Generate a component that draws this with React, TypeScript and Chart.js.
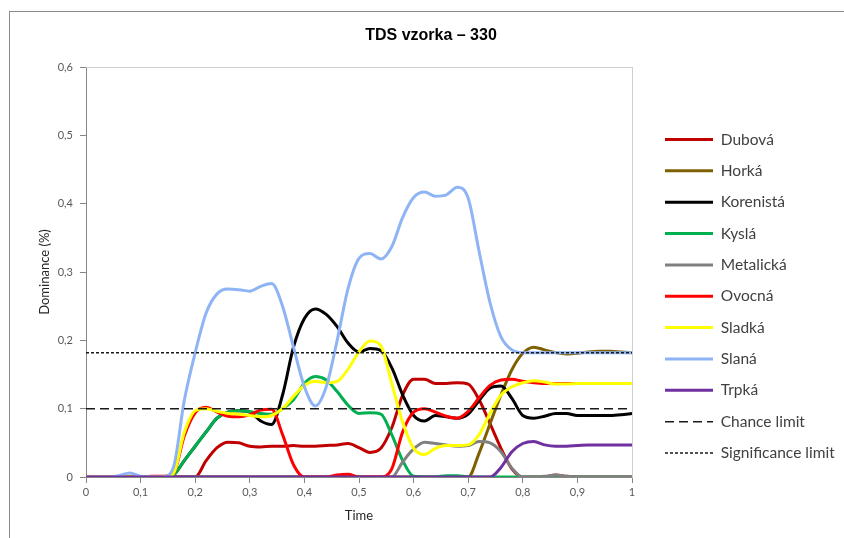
import React, { useEffect, useRef } from 'react';
import { Chart, registerables } from 'chart.js';

Chart.register(...registerables);

// ---- data ----
const times = [
  0, 0.02, 0.04, 0.06, 0.08, 0.1, 0.12, 0.14, 0.16, 0.18,
  0.2, 0.22, 0.24, 0.26, 0.28, 0.3, 0.32, 0.34, 0.36, 0.38,
  0.4, 0.42, 0.44, 0.46, 0.48, 0.5, 0.52, 0.54, 0.56, 0.58,
  0.6, 0.62, 0.64, 0.66, 0.68, 0.7, 0.72, 0.74, 0.76, 0.78,
  0.8, 0.82, 0.84, 0.86, 0.88, 0.9, 0.92, 0.94, 0.96, 0.98, 1,
];

const dubova = [
  0, 0, 0, 0, 0, 0, 0, 0, 0, 0,
  0, 0.024, 0.043, 0.051, 0.05, 0.045, 0.044, 0.045, 0.045, 0.046,
  0.045, 0.045, 0.046, 0.047, 0.049, 0.043, 0.036, 0.042, 0.072, 0.12,
  0.143, 0.143, 0.137, 0.137, 0.138, 0.136, 0.113, 0.078, 0.042, 0.012,
  0, 0, 0, 0.003, 0.001, 0, 0, 0, 0, 0, 0,
];

const horka = [
  0, 0, 0, 0, 0, 0, 0, 0, 0, 0,
  0, 0, 0, 0, 0, 0, 0, 0, 0, 0,
  0, 0, 0, 0, 0, 0, 0, 0, 0, 0,
  0, 0, 0, 0, 0, 0, 0.035, 0.078, 0.12, 0.157,
  0.181, 0.19, 0.186, 0.182, 0.18, 0.181, 0.183, 0.184, 0.184, 0.183, 0.182,
];

const korenista = [
  0, 0, 0, 0, 0, 0, 0, 0, 0.003, 0.024,
  0.045, 0.066, 0.086, 0.095, 0.097, 0.095, 0.082, 0.077, 0.12, 0.19,
  0.232, 0.246, 0.238, 0.22, 0.196, 0.183, 0.188, 0.185, 0.16, 0.12,
  0.09, 0.082, 0.09, 0.088, 0.086, 0.092, 0.112, 0.13, 0.133, 0.115,
  0.09, 0.086, 0.089, 0.093, 0.093, 0.09, 0.09, 0.09, 0.09, 0.091, 0.093,
];

const kysla = [
  0, 0, 0, 0, 0, 0, 0, 0, 0.003, 0.024,
  0.045, 0.066, 0.086, 0.095, 0.097, 0.096, 0.093, 0.092, 0.1, 0.113,
  0.137, 0.147, 0.142, 0.125, 0.105, 0.093, 0.094, 0.092, 0.062, 0.024,
  0.001, 0, 0, 0.002, 0.002, 0, 0, 0, 0, 0,
  0, 0, 0, 0, 0, 0, 0, 0, 0, 0, 0,
];

const metalicka = [
  0, 0, 0, 0, 0, 0, 0, 0, 0, 0,
  0, 0, 0, 0, 0, 0, 0, 0, 0, 0,
  0, 0, 0, 0, 0, 0, 0, 0, 0, 0.022,
  0.041, 0.051, 0.049, 0.047, 0.045, 0.046, 0.052, 0.05, 0.037, 0.013,
  0, 0, 0.001, 0.003, 0.001, 0, 0, 0, 0, 0, 0,
];

const ovocna = [
  0, 0, 0, 0, 0, 0, 0.001, 0.001, 0.005, 0.06,
  0.094, 0.102, 0.095, 0.089, 0.088, 0.091, 0.098, 0.099, 0.062, 0.018,
  0, 0, 0, 0.003, 0.004, 0, 0, 0, 0.012, 0.066,
  0.095, 0.1, 0.095, 0.089, 0.086, 0.096, 0.116, 0.134, 0.142, 0.143,
  0.14, 0.138, 0.137, 0.137, 0.137, 0.137, 0.137, 0.137, 0.137, 0.137, 0.137,
];

const sladka = [
  0, 0, 0, 0, 0, 0, 0, 0, 0.005, 0.065,
  0.097, 0.1, 0.096, 0.093, 0.092, 0.09, 0.088, 0.09, 0.1, 0.118,
  0.134, 0.14, 0.138, 0.14, 0.158, 0.183, 0.199, 0.192, 0.137, 0.08,
  0.042, 0.033, 0.042, 0.046, 0.046, 0.047, 0.062, 0.093, 0.12, 0.132,
  0.138, 0.141, 0.139, 0.136, 0.136, 0.137, 0.137, 0.137, 0.137, 0.137, 0.137,
];

const slana = [
  0, 0, 0, 0.002, 0.006, 0.001, 0, 0, 0.014, 0.112,
  0.182, 0.24, 0.268, 0.275, 0.274, 0.272, 0.279, 0.283, 0.25, 0.19,
  0.132, 0.104, 0.132, 0.2, 0.276, 0.32, 0.327, 0.319, 0.337, 0.38,
  0.409, 0.417, 0.411, 0.413, 0.424, 0.408, 0.33, 0.255, 0.205, 0.186,
  0.182, 0.182, 0.182, 0.182, 0.182, 0.182, 0.182, 0.182, 0.182, 0.182, 0.182,
];

const trpka = [
  0, 0, 0, 0, 0, 0, 0, 0, 0, 0,
  0, 0, 0, 0, 0, 0, 0, 0, 0, 0,
  0, 0, 0, 0, 0, 0, 0, 0, 0, 0,
  0, 0, 0, 0, 0, 0, 0, 0, 0.014, 0.037,
  0.049, 0.052, 0.047, 0.045, 0.045, 0.046, 0.047, 0.047, 0.047, 0.047, 0.047,
];

const chanceLimit = 0.1;
const significanceLimit = 0.182;

const seriesNames = ['Dubová', 'Horká', 'Korenistá', 'Kyslá', 'Metalická', 'Ovocná', 'Sladká', 'Slaná', 'Trpká'];
const seriesValues = [dubova, horka, korenista, kysla, metalicka, ovocna, sladka, slana, trpka];
const seriesColors = ['#C00000', '#7F6000', '#000000', '#00B050', '#808080', '#FF0000', '#FFFF00', '#8FB4F5', '#7030A0'];
const limitNames = ['Chance limit', 'Significance limit'];

const chartTitle = 'TDS vzorka – 330';
const xTitle = 'Time';
const yTitle = 'Dominance (%)';

function fmt(v: number): string {
  if (Math.abs(v) < 1e-9) return '0';
  if (Math.abs(v - 1) < 1e-9) return '1';
  return v.toFixed(1).replace('.', ',');
}

export default function App() {
  const ref = useRef<HTMLCanvasElement>(null);

  useEffect(() => {
    const canvas = ref.current;
    if (!canvas) return;
    const W = 844;
    const H = 538;
    const family = 'Lato, "Open Sans", "Liberation Sans", sans-serif';
    const legendFontSize = 15.5;
    const itemStep = 31.35;
    const legendPad = itemStep - legendFontSize;
    const boxW = 48;
    const lineLeft = 665;
    const plotLeft = 86;
    const plotRight = 632;
    const plotTop = 67;
    const plotBottom = 477;
    const titleCenterX = 431;
    const titleCenterY = 36;
    const firstLegendY = 139.5;

    const mctx = document.createElement('canvas').getContext('2d')!;
    mctx.font = `${legendFontSize}px ${family}`;
    const allLabels = [...seriesNames, ...limitNames];
    const maxText = Math.max(...allLabels.map((l) => mctx.measureText(l).width));
    const legendLeft = lineLeft - legendPad;
    const legendWidth = legendPad + boxW + legendFontSize / 2 + maxText;
    const padRight = W - legendLeft - legendWidth;
    const padLeft = padRight + 2 * titleCenterX - W;

    const titleSize = 16;
    const titleLH = titleSize * 1.2;
    const titlePadTop = titleCenterY - titleLH / 2;
    const titlePadBottom = plotTop - titlePadTop - titleLH;

    const colH = allLabels.length * (legendFontSize + legendPad);
    const legendTitleH = 2 * (firstLegendY - legendFontSize / 2) - (legendPad + H - colH);

    const datasets: any[] = seriesNames.map((name, i) => ({
      label: name,
      data: times.map((t, k) => ({ x: t, y: seriesValues[i][k] })),
      borderColor: seriesColors[i],
      backgroundColor: seriesColors[i],
      borderWidth: 3,
      pointRadius: 0,
      pointHoverRadius: 0,
      tension: 0.4,
      cubicInterpolationMode: 'monotone',
      fill: false,
      order: 20 - i,
    }));
    datasets.push({
      label: limitNames[0],
      data: [{ x: 0, y: chanceLimit }, { x: 1, y: chanceLimit }],
      borderColor: '#1a1a1a',
      backgroundColor: '#1a1a1a',
      borderWidth: 1.5,
      borderDash: [9, 5],
      pointRadius: 0,
      fill: false,
      order: 20 - 9,
    });
    datasets.push({
      label: limitNames[1],
      data: [{ x: 0, y: significanceLimit }, { x: 1, y: significanceLimit }],
      borderColor: '#1a1a1a',
      backgroundColor: '#1a1a1a',
      borderWidth: 1.5,
      borderDash: [3, 2],
      pointRadius: 0,
      fill: false,
      order: 20 - 10,
    });

    const tickFont = { family, size: 11 };
    const axisGray = '#868686';

    const chart = new Chart(canvas, {
      type: 'line',
      data: { datasets },
      options: {
        responsive: false,
        animation: false,
        events: [],
        layout: { padding: { left: padLeft, right: padRight, top: 0, bottom: 0 } },
        plugins: {
          tooltip: { enabled: false },
          title: {
            display: true,
            text: chartTitle,
            color: '#000000',
            font: { family: '"Liberation Sans", Arial, sans-serif', size: titleSize, weight: 'bold' },
            padding: { top: titlePadTop, bottom: titlePadBottom },
          },
          legend: {
            display: true,
            position: 'right',
            align: 'center',
            fullSize: true,
            maxWidth: legendWidth,
            title: { display: true, text: '', font: { size: 10 }, padding: { top: legendTitleH - 12, bottom: 0 } },
            labels: {
              usePointStyle: true,
              pointStyle: 'line',
              pointStyleWidth: boxW,
              padding: legendPad,
              color: '#404040',
              font: { family, size: legendFontSize },
              generateLabels: (ch: any) =>
                ch.data.datasets.map((ds: any, i: number) => ({
                  text: ds.label,
                  fillStyle: ds.borderColor,
                  strokeStyle: ds.borderColor,
                  lineWidth: ds.borderWidth,
                  lineDash: ds.borderDash || [],
                  lineCap: 'butt',
                  pointStyle: 'line',
                  fontColor: '#404040',
                  hidden: false,
                  datasetIndex: i,
                })),
            },
          },
        },
        scales: {
          x: {
            type: 'linear',
            position: 'bottom',
            min: 0,
            max: 1,
            ticks: { stepSize: 0.1, callback: (v: any) => fmt(Number(v)), color: '#595959', font: tickFont, padding: 3, maxRotation: 0, autoSkip: false },
            grid: { display: true, drawOnChartArea: false, drawTicks: true, tickLength: 6, color: axisGray },
            border: { display: true, color: axisGray, width: 1 },
            title: { display: true, text: xTitle, color: '#262626', font: { family, size: 13 }, padding: { top: 0, bottom: H - 516 - 7.8 } },
            afterFit: (s: any) => { s.height = H - plotBottom; },
          },
          y: {
            type: 'linear',
            position: 'left',
            min: 0,
            max: 0.6,
            ticks: { stepSize: 0.1, callback: (v: any) => fmt(Number(v)), color: '#595959', font: tickFont, padding: 7 },
            grid: { display: true, drawOnChartArea: false, drawTicks: true, tickLength: 6, color: axisGray },
            border: { display: true, color: axisGray, width: 1 },
            title: { display: true, text: yTitle, color: '#262626', font: { family, size: 13 }, padding: { top: 45 - padLeft - 7.8, bottom: 0 } },
            afterFit: (s: any) => { s.width = plotLeft - padLeft; },
          },
          y2: {
            type: 'linear',
            position: 'right',
            min: 0,
            max: 0.6,
            grid: { display: false },
            ticks: { display: false },
            border: { display: true, color: '#cfcfcf', width: 1 },
            afterFit: (s: any) => { s.width = legendLeft - plotRight; },
          },
          x2: {
            type: 'linear',
            position: 'top',
            min: 0,
            max: 1,
            grid: { display: false },
            ticks: { display: false },
            border: { display: true, color: '#cfcfcf', width: 1 },
            afterFit: (s: any) => { s.height = 0; },
          },
        },
      } as any,
    });

    return () => chart.destroy();
  }, []);

  return (
    <div style={{ position: 'fixed', left: 0, top: 0, width: 844, height: 538, background: '#ffffff', overflow: 'hidden' }}>
      <div
        style={{
          position: 'absolute',
          left: 9,
          top: 11,
          width: 900,
          height: 600,
          borderLeft: '1px solid #8a8a8a',
          borderTop: '1px solid #8a8a8a',
        }}
      />
      <canvas ref={ref} width={844} height={538} style={{ position: 'absolute', left: 0, top: 0, width: 844, height: 538, display: 'block' }} />
    </div>
  );
}
